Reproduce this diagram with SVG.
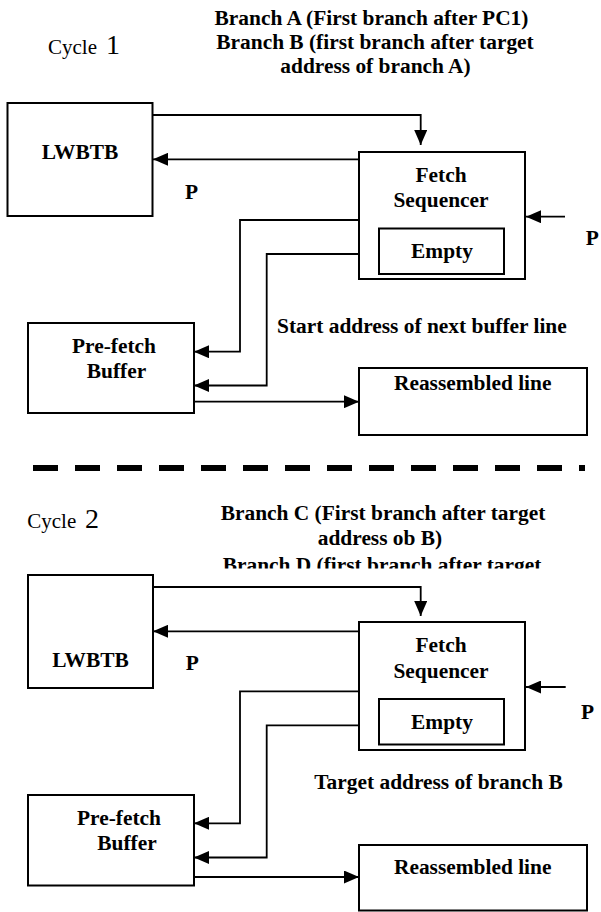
<svg xmlns="http://www.w3.org/2000/svg" width="601" height="912" viewBox="0 0 601 912">
  <style>
    .box { fill: #ffffff; stroke: #000000; stroke-width: 2; }
    .wire { fill: none; stroke: #000000; stroke-width: 1.8; }
    .arrow { marker-end: url(#head); }
    .lbl { font-family: "Liberation Serif", "Times New Roman", serif; font-weight: bold; font-size: 21.4px; fill: #000000; }
    .mid { text-anchor: middle; }
    .cyc { font-family: "Liberation Serif", "Times New Roman", serif; font-size: 21px; fill: #000000; }
    .sep { stroke: #000000; stroke-width: 6; stroke-dasharray: 25 17; }
  </style>
  <defs>
    <marker id="head" viewBox="0 0 15 13" refX="15" refY="6.5" markerWidth="15" markerHeight="13" markerUnits="userSpaceOnUse" orient="auto">
      <path d="M0,0 L15,6.5 L0,13 z" fill="#000000"/>
    </marker>
    <clipPath id="clipD">
      <rect x="0" y="540" width="601" height="28.5"/>
    </clipPath>
  </defs>

  <!-- ===== Cycle 1 ===== -->
  <g id="cycle1-title">
    <text class="cyc" x="48" y="54">Cycle<tspan x="106" font-size="28">1</tspan></text>
    <text class="lbl mid" x="371.5" y="25">Branch A (First branch after PC1)</text>
    <text class="lbl mid" x="375" y="49">Branch B (first branch after target</text>
    <text class="lbl mid" x="375.5" y="73">address of branch A)</text>
  </g>

  <g id="c1-lwbtb">
    <rect class="box" x="7.5" y="103" width="145" height="113"/>
    <text class="lbl mid" x="80" y="159">LWBTB</text>
  </g>

  <g id="c1-fetch">
    <rect class="box" x="359" y="152" width="166" height="127"/>
    <text class="lbl mid" x="441" y="181.7">Fetch</text>
    <text class="lbl mid" x="441" y="206.7">Sequencer</text>
  </g>

  <g id="c1-empty">
    <rect class="box" x="379" y="228.5" width="125" height="45.5"/>
    <text class="lbl mid" x="442" y="258.3">Empty</text>
  </g>

  <g id="c1-prefetch">
    <rect class="box" x="28" y="323" width="166" height="90"/>
    <text class="lbl mid" x="114" y="352.7">Pre-fetch</text>
    <text class="lbl mid" x="116.5" y="377.7">Buffer</text>
  </g>

  <g id="c1-reassembled">
    <rect class="box" x="359" y="368" width="228" height="67"/>
    <text class="lbl mid" x="472.7" y="390">Reassembled line</text>
  </g>

  <g id="c1-connectors">
    <path class="wire arrow" d="M152.7,115 H420.7 V145"/>
    <path class="wire arrow" d="M359,159.3 H153"/>
    <path class="wire arrow" d="M565,216.7 H526"/>
    <path class="wire arrow" d="M359,220 H240 V351.7 H194"/>
    <path class="wire arrow" d="M359,254 H266.7 V385.5 H194"/>
    <path class="wire arrow" d="M194,401.7 H359"/>
  </g>

  <g id="c1-labels">
    <text class="lbl" x="185" y="199">P</text>
    <text class="lbl" x="585.7" y="245">P</text>
    <text class="lbl" x="277" y="333.3">Start address of next buffer line</text>
  </g>

  <!-- separator between the two cycles -->
  <line class="sep" x1="33" y1="468" x2="585" y2="468"/>

  <!-- ===== Cycle 2 ===== -->
  <g id="cycle2-title">
    <text class="cyc" x="27.3" y="528">Cycle<tspan x="85" font-size="28">2</tspan></text>
    <text class="lbl mid" x="383" y="520.3">Branch C (First branch after target</text>
    <text class="lbl mid" x="380" y="544.7">address ob B)</text>
    <text class="lbl mid" x="382" y="572" clip-path="url(#clipD)">Branch D (first branch after target</text>
  </g>

  <g id="c2-lwbtb">
    <rect class="box" x="28" y="575" width="125" height="113"/>
    <text class="lbl mid" x="90.5" y="667">LWBTB</text>
  </g>

  <g id="c2-fetch">
    <rect class="box" x="359" y="622" width="166" height="128"/>
    <text class="lbl mid" x="441" y="652">Fetch</text>
    <text class="lbl mid" x="441" y="678">Sequencer</text>
  </g>

  <g id="c2-empty">
    <rect class="box" x="379" y="699" width="125" height="45.5"/>
    <text class="lbl mid" x="442" y="728.7">Empty</text>
  </g>

  <g id="c2-prefetch">
    <rect class="box" x="28" y="795" width="166" height="90.5"/>
    <text class="lbl mid" x="119" y="825.3">Pre-fetch</text>
    <text class="lbl mid" x="127" y="850.3">Buffer</text>
  </g>

  <g id="c2-reassembled">
    <rect class="box" x="359" y="845" width="228" height="65.5"/>
    <text class="lbl mid" x="472.7" y="873.7">Reassembled line</text>
  </g>

  <g id="c2-connectors">
    <path class="wire arrow" d="M152.7,587 H420.7 V616"/>
    <path class="wire arrow" d="M359,631.3 H153"/>
    <path class="wire arrow" d="M565.7,687 H526"/>
    <path class="wire arrow" d="M359,691.3 H240 V823.3 H194"/>
    <path class="wire arrow" d="M359,725.3 H266.7 V857.5 H194"/>
    <path class="wire arrow" d="M194,877 H359"/>
  </g>

  <g id="c2-labels">
    <text class="lbl" x="185.7" y="670.3">P</text>
    <text class="lbl" x="581" y="718.7">P</text>
    <text class="lbl" x="314.3" y="788.7">Target address of branch B</text>
  </g>
</svg>
